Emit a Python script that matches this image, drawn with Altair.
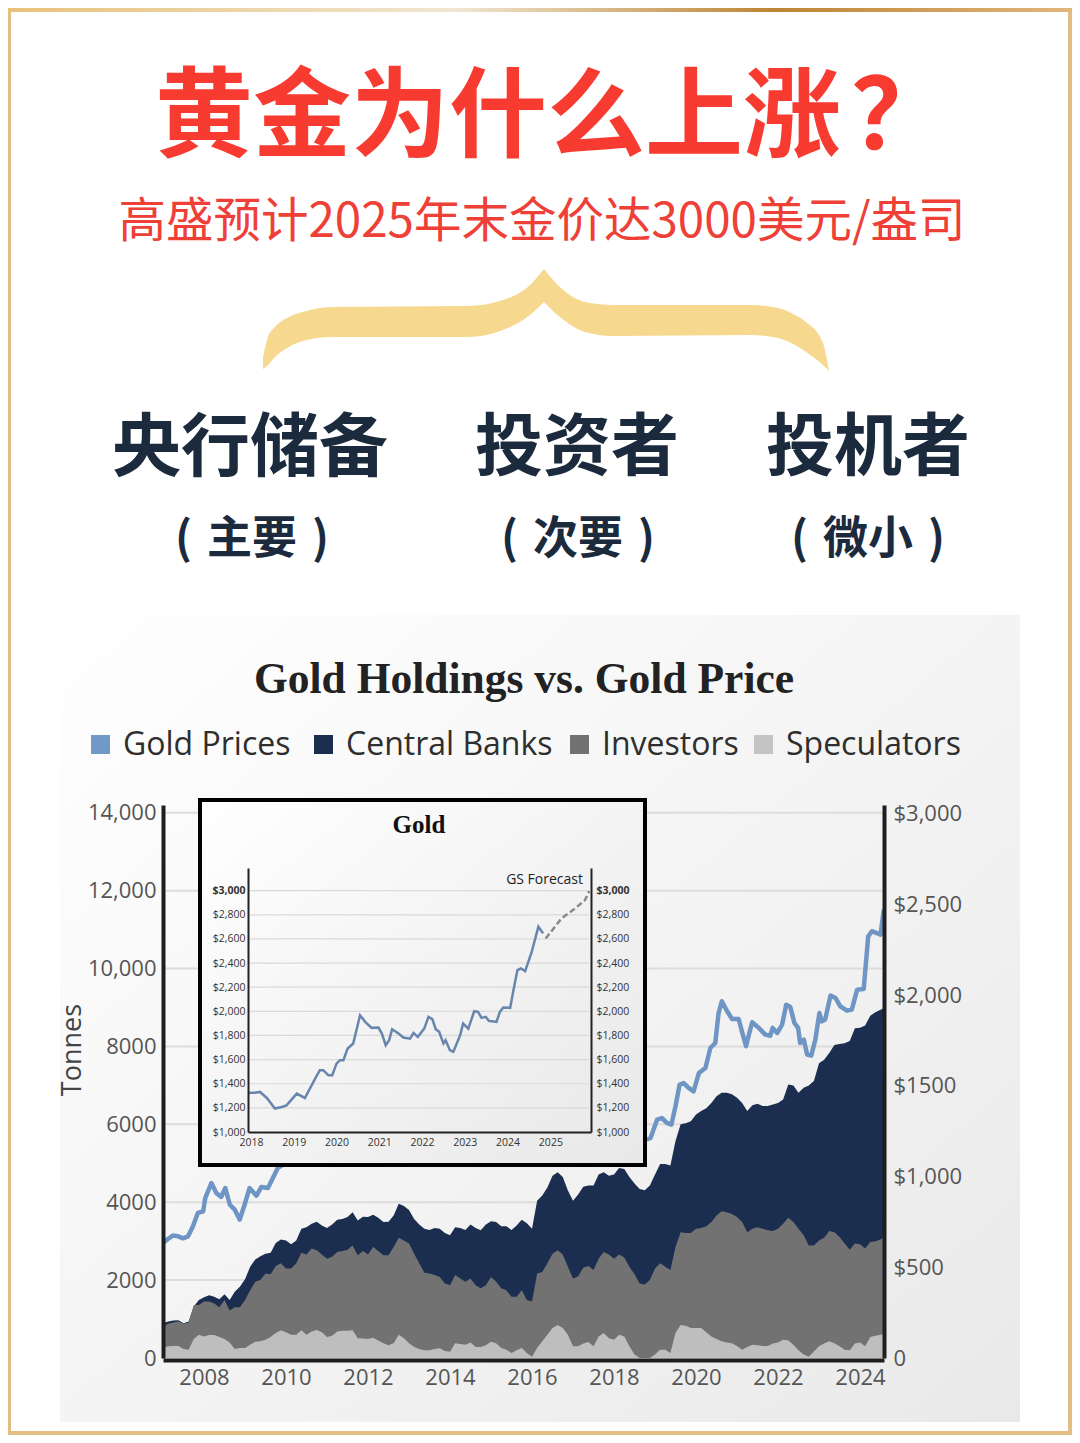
import altair as alt
import pandas as pd

# tonnes, read every 1/8 year from 2007 on
central_top = [
    890, 940, 960, 970, 890, 940, 1320, 1490, 1560, 1610,
    1570, 1510, 1640, 1490, 1700, 1830, 2020, 2340, 2530, 2610,
    2680, 2700, 2950, 3040, 3020, 2920, 3020, 3320, 3360, 3450,
    3500, 3400, 3340, 3430, 3550, 3570, 3620, 3740, 3530, 3630,
    3620, 3680, 3600, 3490, 3500, 3660, 3960, 3900, 3800, 3570,
    3430, 3320, 3290, 3340, 3320, 3210, 3150, 3360, 3340, 3290,
    3430, 3340, 3280, 3430, 3510, 3490, 3380, 3380, 3290, 3400,
    3550, 3460, 3320, 4040, 4170, 4380, 4680, 4770, 4650, 4300,
    4040, 4200, 4400, 4430, 4430, 4710, 4770, 4680, 4710, 4880,
    4850, 4650, 4480, 4340, 4310, 4430, 4710, 4980, 4980, 4940,
    5570, 6000, 6030, 6080, 6250, 6340, 6410, 6550, 6720, 6810,
    6810, 6770, 6680, 6550, 6340, 6490, 6530, 6470, 6470, 6510,
    6550, 6640, 7020, 7000, 6810, 6940, 7000, 7110, 7570, 7660,
    7830, 8040, 8060, 8080, 8140, 8470, 8480, 8540, 8790, 8880,
    8940, 9000,
]
investor_top = [
    810, 880, 910, 940, 880, 910, 1360, 1360, 1450, 1450,
    1400, 1300, 1490, 1220, 1300, 1300, 1490, 1740, 1960, 2000,
    2170, 2150, 2360, 2430, 2300, 2300, 2430, 2700, 2660, 2810,
    2770, 2660, 2550, 2600, 2720, 2750, 2780, 2890, 2640, 2750,
    2660, 2850, 2750, 2640, 2640, 2850, 3090, 3020, 2940, 2680,
    2430, 2190, 2170, 2130, 2080, 1910, 1870, 2130, 2040, 1960,
    2040, 1870, 1790, 1870, 2080, 1960, 1790, 1740, 1570, 1570,
    1740, 1490, 1450, 2170, 2210, 2430, 2680, 2770, 2660, 2340,
    2040, 2100, 2320, 2360, 2260, 2550, 2720, 2660, 2550, 2660,
    2580, 2340, 2150, 1910, 1890, 2000, 2300, 2430, 2340, 2260,
    2850, 3230, 3210, 3210, 3320, 3340, 3380, 3490, 3660, 3770,
    3740, 3700, 3620, 3490, 3230, 3320, 3360, 3320, 3280, 3260,
    3320, 3450, 3600, 3490, 3320, 3150, 2890, 2890, 3020, 3090,
    3260, 3230, 3110, 2940, 2780, 2940, 2920, 2810, 2980, 3000,
    3040, 3120,
]
speculators = [
    260, 300, 310, 310, 230, 210, 490, 600, 550, 590,
    590, 540, 490, 400, 230, 260, 260, 340, 420, 430,
    470, 540, 640, 710, 660, 600, 600, 710, 600, 680,
    720, 660, 540, 570, 680, 700, 700, 710, 510, 500,
    490, 520, 450, 380, 330, 380, 600, 510, 380, 280,
    230, 200, 200, 230, 250, 180, 160, 380, 360, 340,
    400, 280, 280, 330, 420, 380, 260, 210, 130, 200,
    260, 130, 30, 260, 430, 600, 770, 850, 770, 600,
    300, 300, 370, 410, 300, 550, 640, 510, 470, 600,
    550, 300, 90, 0, 0, 0, 90, 210, 210, 130,
    640, 850, 830, 770, 770, 770, 660, 550, 490, 430,
    400, 380, 310, 210, 280, 340, 330, 310, 310, 370,
    400, 470, 450, 340, 200, 90, 30, 170, 300, 370,
    430, 380, 300, 210, 200, 370, 400, 300, 540, 570,
    600, 610,
]
years = [2007 + i / 8 for i in range(len(central_top))]

gold_years = [
    2007.00, 2007.12, 2007.24, 2007.37, 2007.49, 2007.61, 2007.73, 2007.85, 2007.98, 2008.03,
    2008.18, 2008.30, 2008.42, 2008.52, 2008.63, 2008.75, 2008.87, 2008.99, 2009.11, 2009.28,
    2009.40, 2009.56, 2009.68, 2009.80, 2010.2, 2010.6, 2011.0, 2011.4, 2011.7, 2012.0,
    2012.4, 2012.8, 2013.2, 2013.6, 2014.0, 2014.4, 2014.8, 2015.2, 2015.6, 2016.0,
    2016.5, 2017.0, 2017.5, 2018.0, 2018.4, 2018.7, 2018.89, 2019.05, 2019.17, 2019.29,
    2019.40, 2019.50, 2019.60, 2019.70, 2019.82, 2019.94, 2020.07, 2020.23, 2020.35, 2020.47,
    2020.55, 2020.63, 2020.76, 2020.88, 2021.04, 2021.12, 2021.22, 2021.28, 2021.37, 2021.53,
    2021.69, 2021.81, 2021.87, 2021.98, 2022.10, 2022.20, 2022.30, 2022.40, 2022.49, 2022.54,
    2022.63, 2022.71, 2022.81, 2022.91, 2023.01, 2023.07, 2023.15, 2023.28, 2023.40, 2023.52,
    2023.68, 2023.80, 2023.93, 2024.09, 2024.20, 2024.29, 2024.41, 2024.50, 2024.58,
]
gold_prices = [
    634, 656, 675, 671, 660, 671, 726, 800, 809, 882,
    965, 910, 888, 937, 845, 818, 763, 845, 937, 895,
    943, 937, 993, 1048, 1100, 1230, 1400, 1520, 1780, 1650,
    1600, 1720, 1500, 1300, 1240, 1300, 1200, 1190, 1120, 1100,
    1330, 1180, 1260, 1320, 1300, 1200, 1213, 1314, 1323, 1296,
    1287, 1388, 1507, 1516, 1489, 1470, 1571, 1599, 1709, 1737,
    1902, 1967, 1912, 1869, 1869, 1801, 1719, 1774, 1851, 1820,
    1783, 1777, 1820, 1792, 1838, 1948, 1935, 1847, 1820, 1737,
    1755, 1673, 1667, 1755, 1902, 1856, 1866, 1998, 1985, 1939,
    1915, 1921, 2031, 2035, 2325, 2353, 2343, 2334, 2472,
]

inset_years = [
    2017.94, 2018.09, 2018.21, 2018.37, 2018.56, 2018.72, 2018.83, 2019.07, 2019.26, 2019.50,
    2019.61, 2019.69, 2019.81, 2019.90, 2020.00, 2020.08, 2020.16, 2020.26, 2020.39, 2020.55,
    2020.67, 2020.82, 2020.98, 2021.06, 2021.15, 2021.23, 2021.30, 2021.45, 2021.56, 2021.72,
    2021.80, 2021.90, 2022.05, 2022.15, 2022.24, 2022.32, 2022.40, 2022.50, 2022.55, 2022.65,
    2022.73, 2022.89, 2022.96, 2023.08, 2023.22, 2023.31, 2023.39, 2023.49, 2023.56, 2023.74,
    2023.82, 2023.90, 2024.06, 2024.13, 2024.23, 2024.31, 2024.41, 2024.56, 2024.72, 2024.83,
]
inset_prices = [
    1326, 1326, 1332, 1282, 1194, 1207, 1221, 1318, 1282, 1443,
    1512, 1512, 1470, 1470, 1567, 1595, 1595, 1692, 1733, 1968,
    1913, 1863, 1866, 1816, 1719, 1761, 1852, 1816, 1783, 1774,
    1821, 1788, 1857, 1954, 1935, 1852, 1830, 1733, 1761, 1678,
    1664, 1802, 1899, 1857, 2001, 1996, 1946, 1954, 1921, 1913,
    1996, 2032, 2029, 2162, 2342, 2355, 2333, 2488, 2701, 2646,
]
forecast_years = [2024.89, 2025.26, 2025.58, 2025.81, 2025.91]
forecast_prices = [2604, 2770, 2853, 2922, 2997]

tonne_ticks = [0, 2000, 4000, 6000, 8000, 10000, 12000, 14000]
dollar_ticks = [0, 500, 1000, 1500, 2000, 2500, 3000]
inset_ticks = [1000, 1200, 1400, 1600, 1800, 2000, 2200, 2400, 2600, 2800, 3000]
legend_names = ["Gold Prices", "Central Banks", "Investors", "Speculators"]
legend_colors = ["#7099C8", "#1B2E4F", "#737273", "#C4C4C4"]

# brace outline, left and right half
brace_left_x = [263, 268, 275, 289, 303, 331, 468, 503, 530, 544]
brace_left_top = [357, 337, 327, 317, 312, 307, 306, 300, 285, 269]
brace_left_low = [369, 365, 357, 347, 341, 337, 337, 330, 315, 302]
brace_right_x = [544, 561, 585, 613, 751, 778, 795, 806, 823, 826, 829]
brace_right_top = [269, 288, 302, 305, 305, 308, 315, 322, 343, 355, 371]
brace_right_low = [302, 318, 332, 336, 335, 338, 345, 352, 365, 368, 371]

W, H = 1064, 1427
M = 8  # page margin, the helpers take picture coordinates
CJK = "Noto Sans CJK SC"
SANS = "Open Sans"
SERIF = "Liberation Serif"
NAVY = "#1B2E4F"
GOLD = "#E2BE84"
INK = "#1B2A3C"

one_row = pd.DataFrame({"a": [0]})


def label(text, x, y, size, color="#333333", font=SANS, weight="normal", align="center", angle=0):
    return alt.Chart(pd.DataFrame({"t": [text]})).mark_text(
        font=font, fontSize=size, fontWeight=weight, color=color, align=align,
        baseline="middle", angle=angle,
    ).encode(x=alt.value(x - M), y=alt.value(y - M), text="t:N")


def box(x1, x2, y1, y2, color, **kw):
    return alt.Chart(one_row).mark_rect(color=color, **kw).encode(
        x=alt.value(x1 - M), x2=alt.value(x2 - M), y=alt.value(y1 - M), y2=alt.value(y2 - M)
    )


def gradient(c1, c2):
    return alt.Gradient(gradient="linear", x1=0, y1=0, x2=1, y2=1,
                        stops=[alt.GradientStop(color=c1, offset=0), alt.GradientStop(color=c2, offset=1)])


px_x = alt.Scale(domain=[M, W + M], range=[0, W])
px_y = alt.Scale(domain=[M, H + M], range=[0, H])


def brace(xs, top, low):
    d = pd.DataFrame({"x": xs, "top": top, "low": low})
    return alt.Chart(d).mark_area(color="#F6D88F", interpolate="monotone").encode(
        x=alt.X("x:Q", scale=px_x, axis=None),
        y=alt.Y("top:Q", scale=px_y, axis=None),
        y2="low:Q",
    )


# main chart scales
main_x = alt.Scale(domain=[2007, 2024.585], range=[163 - M, 884 - M])
tonne_y = alt.Scale(domain=[0, 14200], range=[1358 - M, 805 - M])
dollar_y = alt.Scale(domain=[0, 3049], range=[1358 - M, 805 - M])

spine = dict(domainColor="#1E1E1E", domainWidth=4, ticks=False, grid=False, zindex=1,
             labelFont=SANS, labelFontSize=22, labelColor="#555555", title=None)

stack_df = pd.DataFrame({"year": years, "central": central_top, "investor": investor_top, "spec": speculators})


def band(field, color, axis=None, xaxis=None):
    return alt.Chart(stack_df).mark_area(color=color).encode(
        x=alt.X("year:Q", scale=main_x, axis=xaxis),
        y=alt.Y(f"{field}:Q", scale=tonne_y, stack=None, axis=axis),
    )


tonne_axis = alt.Axis(
    orient="left", offset=-(163 - M), values=tonne_ticks, labelPadding=7, labelFlush=False,
    labelExpr="datum.value >= 10000 ? format(datum.value, ',') : format(datum.value, 'd')", **spine,
)
year_axis = alt.Axis(
    orient="bottom", offset=-(H - (1360 - M)), values=list(range(2008, 2025, 2)), format="d",
    labelPadding=7, **spine,
)
dollar_axis = alt.Axis(
    orient="right", offset=-(W - (884 - M)), values=dollar_ticks, labelPadding=9,
    labelExpr="datum.value == 0 ? '\u00a0\u00a00' : datum.value == 1500 ? '$1500' : datum.value == 500 ? '$500' : '$' + format(datum.value, ',')",
    **spine,
)

grid_main = alt.Chart(pd.DataFrame({"v": tonne_ticks[1:]})).mark_rule(color="#DEDCDC", strokeWidth=2).encode(
    x=alt.value(163 - M), x2=alt.value(884 - M),
    y=alt.Y("v:Q", scale=tonne_y, axis=None),
)

gold_line = alt.Chart(pd.DataFrame({"year": gold_years, "price": gold_prices})).mark_line(
    color="#6F95C4", strokeWidth=4.5, strokeJoin="round"
).encode(
    x=alt.X("year:Q", scale=main_x, axis=None),
    y=alt.Y("price:Q", scale=dollar_y, axis=dollar_axis),
)

# inset
inset_x = alt.Scale(domain=[2017.93, 2025.95], range=[248 - M, 591 - M])
inset_y = alt.Scale(domain=[1000, 3188], range=[1132 - M, 868 - M])
inset_spine = dict(domainColor="#222222", domainWidth=2, ticks=False, grid=False, zindex=1,
                   labelFont=SANS, labelFontSize=10.5, labelColor="#333333", title=None,
                   labelFlush=False)
bold_top = {"condition": {"test": "datum.value == 3000", "value": "bold"}, "value": "normal"}
money = "'$' + format(datum.value, ',')"

inset_left = alt.Axis(orient="left", offset=-(248 - M), values=inset_ticks, labelPadding=3,
                      labelExpr=money, labelFontWeight=bold_top, **inset_spine)
inset_right = alt.Axis(orient="right", offset=-(W - (591 - M)), values=inset_ticks, labelPadding=5,
                       labelExpr=money, labelFontWeight=bold_top, **inset_spine)
inset_bottom = alt.Axis(orient="bottom", offset=-(H - (1132 - M)), values=list(range(2018, 2026)), format="d",
                        labelPadding=5, **inset_spine)

grid_inset = alt.Chart(pd.DataFrame({"v": inset_ticks[1:]})).mark_rule(color="#DADADA", strokeWidth=1.2).encode(
    x=alt.value(248 - M), x2=alt.value(589 - M),
    y=alt.Y("v:Q", scale=inset_y, axis=None),
)
inset_line = alt.Chart(pd.DataFrame({"year": inset_years, "price": inset_prices})).mark_line(
    color="#6886AD", strokeWidth=2.5
).encode(
    x=alt.X("year:Q", scale=inset_x, axis=inset_bottom),
    y=alt.Y("price:Q", scale=inset_y, axis=inset_left),
)
inset_fc = alt.Chart(pd.DataFrame({"year": forecast_years, "price": forecast_prices})).mark_line(
    color="#8A8A8A", strokeWidth=2.5, strokeDash=[6, 3]
).encode(
    x=alt.X("year:Q", scale=inset_x, axis=None),
    y=alt.Y("price:Q", scale=inset_y, axis=inset_right),
)

# legend squares and names
legend_x = [91, 314, 570, 754]
legend_parts = []
for name, col, x in zip(legend_names, legend_colors, legend_x):
    legend_parts.append(box(x, x + 19, 735, 754, col))
    legend_parts.append(label(name, x + 32, 745, 32, color="#2E2E2E", align="left"))

top_band = alt.Gradient(gradient="linear", x1=0, y1=0, x2=1, y2=0, stops=[
    alt.GradientStop(color="#E8C27A", offset=0), alt.GradientStop(color="#F0E6D2", offset=0.42),
    alt.GradientStop(color="#BD8535", offset=0.72), alt.GradientStop(color="#E2B57A", offset=1)])

chart = alt.layer(
    # page frame and headline
    box(8, 11, 8, 1435, GOLD),
    box(1068, 1072, 8, 1435, GOLD),
    box(8, 1072, 1431, 1435, GOLD),
    box(8, 1072, 8, 12, top_band),
    label("黄金为什么上涨", 155, 120, 98, color="#F83B30", font=CJK, weight="bold", align="left"),
    label("？", 851, 120, 98, color="#F83B30", font=CJK, weight="bold", align="left"),
    label("高盛预计2025年末金价达3000美元/盎司", 542, 223, 47.5, color="#EE4036", font=CJK),
    brace(brace_left_x, brace_left_top, brace_left_low),
    brace(brace_right_x, brace_right_top, brace_right_low),
    label("央行储备", 250, 450, 69, color=INK, font=CJK, weight="bold"),
    label("投资者", 577, 450, 68, color=INK, font=CJK, weight="bold"),
    label("投机者", 868, 450, 68, color=INK, font=CJK, weight="bold"),
    label("(\u2004主要\u2004)", 252, 540, 45, color=INK, font=CJK, weight="bold"),
    label("(\u2004次要\u2004)", 578, 540, 45, color=INK, font=CJK, weight="bold"),
    label("(\u2004微小\u2004)", 868, 540, 45, color=INK, font=CJK, weight="bold"),
    # embedded picture
    box(60, 1020, 615, 1422, gradient("#FFFFFF", "#E9E9E9")),
    label("Gold Holdings vs. Gold Price", 524, 680, 43.5, color="#222222", font=SERIF, weight="bold"),
    *legend_parts,
    label("Tonnes", 73, 1050, 27, color="#444444", angle=270),
    grid_main,
    band("central", NAVY, axis=tonne_axis, xaxis=year_axis),
    band("investor", "#737273"),
    band("spec", "#BFBEBF"),
    gold_line,
    # inset box
    box(200, 645, 800, 1165, gradient("#FFFFFF", "#E8E8E8"), stroke="#000000", strokeWidth=4),
    label("Gold", 419, 825, 25, color="#111111", font=SERIF, weight="bold"),
    grid_inset,
    inset_line,
    inset_fc,
    label("GS Forecast", 583, 880, 14, color="#222222", align="right"),
).resolve_scale(x="independent", y="independent").properties(
    width=W, height=H, padding=0, autosize=alt.AutoSizeParams(type="none"), background="#FFFFFF",
).configure_view(stroke=None)

chart.save("out.html", embed_options={"renderer": "svg", "actions": False})
